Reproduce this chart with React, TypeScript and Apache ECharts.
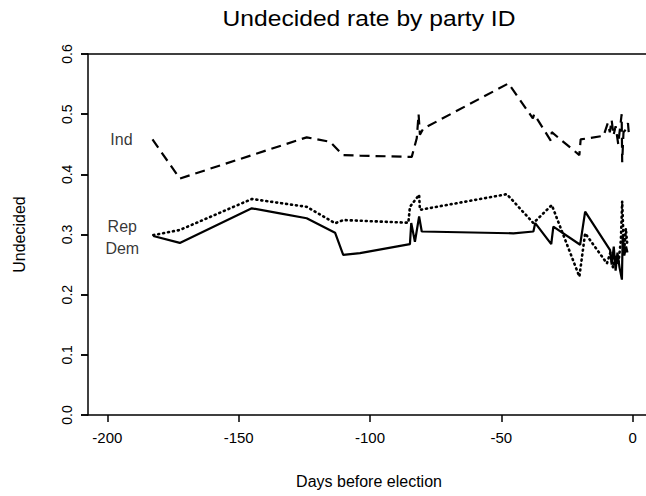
import React, { useEffect, useRef } from 'react';
import * as echarts from 'echarts';

const TITLE = 'Undecided rate by party ID';
const X_NAME = 'Days before election';
const Y_NAME = 'Undecided';
const X_TICKS = [-200, -150, -100, -50, 0];
const Y_TICKS = [0, 0.1, 0.2, 0.3, 0.4, 0.5, 0.6];

const indDays = [-182.8, -172.4, -124.1, -115.2, -110.3, -103.8, -84.1, -82.2, -81.5, -81.0, -79.7, -47.3, -38.0, -37.5, -31.2, -30.8, -20.3, -19.8, -11.1, -9.5, -8.7, -8.0, -7.3, -6.5, -5.5, -5.0, -4.2, -4.0, -3.5, -2.5, -1.8, -1.5];
const indRate = [0.458, 0.393, 0.4615, 0.454, 0.432, 0.431, 0.429, 0.46, 0.5, 0.466, 0.476, 0.551, 0.493, 0.5, 0.456, 0.47, 0.432, 0.458, 0.464, 0.485, 0.47, 0.49, 0.465, 0.48, 0.45, 0.47, 0.5, 0.42, 0.47, 0.475, 0.485, 0.47];

const repDays = [-182.5, -172.4, -145.0, -124.1, -113.3, -110.2, -85.4, -84.8, -81.3, -81.0, -47.9, -37.8, -30.8, -20.3, -18.1, -9.8, -8.5, -7.5, -6.5, -5.5, -4.5, -4.0, -3.3, -2.6, -2.0];
const repRate = [0.299, 0.3075, 0.359, 0.346, 0.3186, 0.324, 0.3196, 0.346, 0.366, 0.341, 0.367, 0.319, 0.349, 0.23, 0.302, 0.252, 0.27, 0.245, 0.265, 0.25, 0.29, 0.355, 0.27, 0.31, 0.28];

const demDays = [-182.5, -172.4, -145.0, -134.3, -124.1, -113.3, -110.2, -103.8, -84.8, -84.3, -82.9, -81.3, -80.3, -45.4, -37.8, -37.1, -31.0, -30.2, -20.0, -18.1, -8.6, -8.0, -7.2, -6.5, -5.8, -5.0, -4.1, -3.8, -3.2, -2.5, -2.0];
const demRate = [0.2975, 0.286, 0.3435, 0.335, 0.327, 0.303, 0.266, 0.269, 0.284, 0.319, 0.288, 0.33, 0.305, 0.302, 0.305, 0.319, 0.284, 0.313, 0.283, 0.338, 0.274, 0.25, 0.28, 0.24, 0.27, 0.245, 0.225, 0.3, 0.265, 0.28, 0.27];

const FONT = '"Liberation Sans", Arial, Helvetica, sans-serif';

function zip(xs: number[], ys: number[]) {
  return xs.map((x, i) => [x, ys[i]]);
}

function labelSeries(name: string, xs: number[], ys: number[], dy: number) {
  return {
    type: 'scatter',
    symbol: 'circle',
    symbolSize: 1,
    silent: true,
    itemStyle: { color: 'rgba(0,0,0,0)' },
    data: [[xs[0], ys[0]]],
    label: {
      show: true,
      formatter: name,
      position: 'inside',
      offset: [-31, dy],
      color: '#000',
      fontSize: 16,
      fontFamily: FONT,
    },
  };
}

export default function App() {
  const ref = useRef<HTMLDivElement>(null);
  useEffect(() => {
    const chart = echarts.init(ref.current!, null, { renderer: 'svg' });
    chart.setOption({
      animation: false,
      backgroundColor: '#fff',
      graphic: [
        {
          type: 'text',
          x: 369,
          y: 18,
          scaleX: 1.12,
          style: {
            text: TITLE,
            fontSize: 22,
            fontFamily: FONT,
            fill: '#000',
            align: 'center',
            verticalAlign: 'middle',
          },
        },
      ],
      grid: [
        { left: 88, top: 54, width: 562, height: 361 },
        // narrow strip left of the plot: its split lines act as the y-axis tick marks
        { left: 81, top: 54, width: 7, height: 361 },
      ],
      xAxis: [
        {
          type: 'value',
          gridIndex: 0,
          position: 'bottom',
          min: -207.35,
          max: 6.59,
          name: X_NAME,
          nameLocation: 'middle',
          nameGap: 58,
          nameTextStyle: { fontSize: 16, fontFamily: FONT, color: '#000' },
          axisLine: { show: true, onZero: false, lineStyle: { color: '#000', width: 1.5 } },
          axisTick: { show: true, customValues: X_TICKS, length: 7, lineStyle: { color: '#000', width: 1.5 } },
          axisLabel: { customValues: X_TICKS, fontSize: 15, fontFamily: FONT, color: '#000', margin: 15 },
          splitLine: { show: false },
        },
        {
          type: 'value',
          gridIndex: 0,
          position: 'top',
          min: -207.35,
          max: 6.59,
          axisLine: { show: true, onZero: false, lineStyle: { color: '#000', width: 1.5 } },
          axisTick: { show: false },
          axisLabel: { show: false },
          splitLine: { show: false },
        },
        {
          type: 'value',
          gridIndex: 1,
          min: 0,
          max: 1,
          show: false,
        },
      ],
      yAxis: [
        {
          type: 'value',
          gridIndex: 0,
          position: 'left',
          min: 0,
          max: 0.6,
          name: Y_NAME,
          nameLocation: 'middle',
          nameGap: 61,
          nameTextStyle: { fontSize: 16, fontFamily: FONT, color: '#000' },
          axisLine: { show: true, onZero: false, lineStyle: { color: '#000', width: 1.5 } },
          axisTick: { show: true, customValues: Y_TICKS, length: 7, lineStyle: { color: '#000', width: 1.5 } },
          axisLabel: {
            customValues: Y_TICKS,
            rotate: 90,
            margin: 14,
            fontSize: 14,
            fontFamily: FONT,
            color: '#000',
            formatter: (v: number) => v.toFixed(1),
          },
          splitLine: { show: false },
        },
        {
          type: 'value',
          gridIndex: 1,
          min: 0,
          max: 0.6,
          interval: 0.1,
          axisLine: { show: false, onZero: false },
          axisTick: { show: false },
          axisLabel: { show: false },
          splitLine: { show: true, lineStyle: { color: '#000', width: 1.5, type: 'solid' } },
        },
      ],
      series: [
        {
          type: 'line',
          name: 'Ind',
          symbol: 'none',
          data: zip(indDays, indRate),
          lineStyle: { color: '#000', width: 2.2, type: [10, 6] },
        },
        {
          type: 'line',
          name: 'Rep',
          symbol: 'none',
          data: zip(repDays, repRate),
          lineStyle: { color: '#000', width: 2.6, type: [1, 4], cap: 'round' },
        },
        {
          type: 'line',
          name: 'Dem',
          symbol: 'none',
          data: zip(demDays, demRate),
          lineStyle: { color: '#000', width: 2.2 },
        },
        labelSeries('Ind', indDays, indRate, 0),
        labelSeries('Rep', repDays, repRate, -9),
        labelSeries('Dem', demDays, demRate, 12),
      ],
    });
    return () => chart.dispose();
  }, []);
  return (
    <div
      ref={ref}
      style={{ position: 'fixed', left: 0, top: 0, width: 660, height: 496 }}
    />
  );
}
